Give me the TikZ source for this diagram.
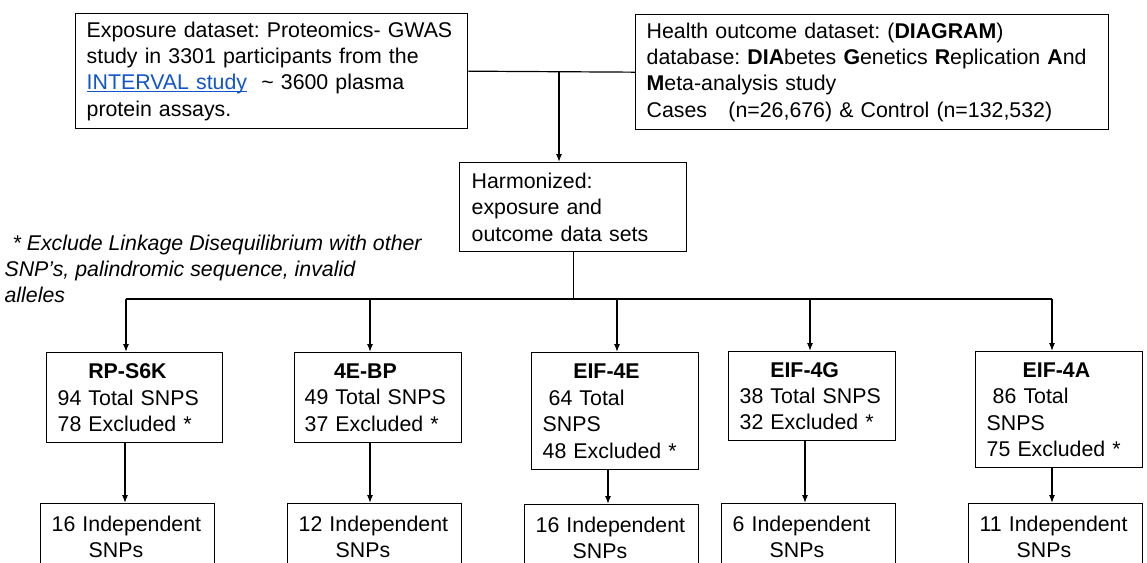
\documentclass[tikz,border=0pt]{standalone}
\usepackage{fontspec}
\setmainfont{Liberation Sans}
\usetikzlibrary{arrows.meta}

\definecolor{linkblue}{RGB}{17,85,204}
\frenchspacing

\begin{document}
\begin{tikzpicture}[x=0.75pt,y=-0.75pt,>={Latex[length=6pt,width=4.5pt]},line width=0.9pt,
  every node/.style={font=\fontsize{16}{19.8}\selectfont},
  flow box/.style={rectangle,draw,line width=1pt,anchor=north west,
  align=left,inner xsep=8.25pt,inner ysep=0pt},
  snp box/.style={flow box,text width=114pt,inner ysep=9pt}]

  \clip (0,0) rectangle (1147,562);

  % data sources
  \node[flow box,text width=277.5pt,minimum height=86.25pt] (expo) at (75,13)
    {\mbox{Exposure dataset: Proteomics- GWAS}\\study in 3301 participants from the\\
     \textcolor{linkblue}{\underline{\smash{INTERVAL study}}}\ \ \textasciitilde{} 3600 plasma\\protein assays.};
  \node[flow box,text width=338.25pt,minimum height=86.25pt] (health) at (635,14)
    {Health outcome dataset: (\textbf{DIAGRAM})\\
     \mbox{database: \textbf{DIA}betes \textbf{G}enetics \textbf{R}eplication \textbf{A}nd}\\
     \textbf{M}eta-analysis study\\Cases\ \ \ (n=26,676) \& Control (n=132,532)};
  \node[flow box,inner xsep=9pt,text width=152.25pt,minimum height=66.75pt] (harm) at (459,162)
    {Harmonized:\\exposure and\\outcome data sets};

  % footnote
  \node[anchor=north west,align=left,inner sep=0pt,
    font=\fontsize{16}{19.8}\selectfont\itshape] (note) at (4,234)
    {\hspace*{6pt}* Exclude Linkage Disequilibrium with other\\SNP’s, palindromic sequence, invalid\\alleles};

  % proteins
  \node[flow box,text width=115.5pt,minimum height=67.5pt] (b1) at (46,352)
    {\hspace*{23pt}\textbf{RP-S6K}\\94 Total SNPS\\78 Excluded *};
  \node[flow box,inner xsep=7.5pt,text width=110.25pt,minimum height=67.5pt] (b2) at (294,352)
    {\hspace*{22pt}\textbf{4E-BP}\\49 Total SNPS\\37 Excluded *};
  \node[flow box,text width=108.75pt,minimum height=87.75pt] (b3) at (531,352)
    {\hspace*{23pt}\textbf{EIF-4E}\\\hspace*{4.5pt}64 Total\\SNPS\\48 Excluded *};
  \node[flow box,text width=108.75pt,minimum height=66.75pt] (b4) at (728,351)
    {\hspace*{23pt}\textbf{EIF-4G}\\38 Total SNPS\\32 Excluded *};
  \node[flow box,text width=108.75pt,minimum height=87pt] (b5) at (975,351)
    {\hspace*{27pt}\textbf{EIF-4A}\\\hspace*{4.5pt}86 Total\\SNPS\\75 Excluded *};

  % independent SNPs
  \node[snp box] (c1) at (40,503) {16 Independent\\\hspace*{27.75pt}SNPs};
  \node[snp box] (c2) at (287,503) {12 Independent\\\hspace*{27.75pt}SNPs};
  \node[snp box] (c3) at (524,504) {16 Independent\\\hspace*{27.75pt}SNPs};
  \node[snp box] (c4) at (721,503) {6 Independent\\\hspace*{27.75pt}SNPs};
  \node[snp box] (c5) at (968,503) {11 Independent\\\hspace*{27.75pt}SNPs};

  % joining the two datasets
  \draw (expo.east) -- (health.west);
  \coordinate (join) at (559,71);
  \draw[->] (join) -- (join |- harm.north);

  % split to the proteins
  \foreach \n/\x in {1/126,2/370,3/617,4/810,5/1052}
    \coordinate (t\n) at (\x,299);
  \draw (harm.south) -- (harm.south |- t1);
  \draw (t1) -- (t5);
  \foreach \n in {1,...,5}
    \draw[->] (t\n) -- (t\n |- b\n.north);

  % down to the independent SNPs
  \foreach \n/\x in {1/125,2/370,3/608,4/805,5/1052}{
    \coordinate (d\n) at (\x,0);
    \draw[->] (d\n |- b\n.south) -- (d\n |- c\n.north);
  }
\end{tikzpicture}
\end{document}
